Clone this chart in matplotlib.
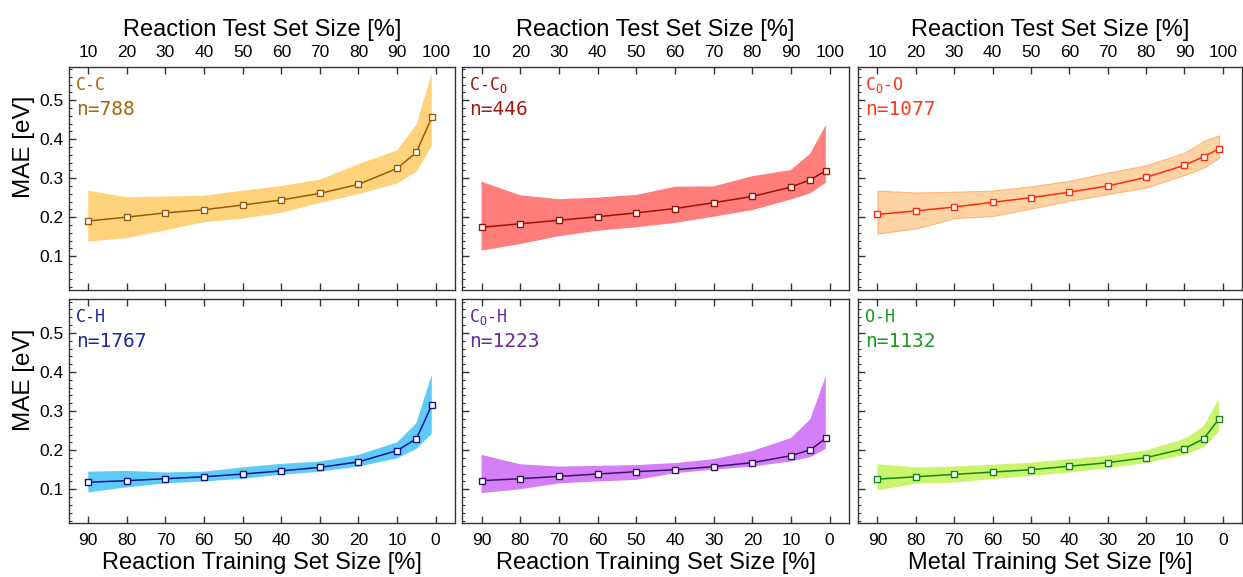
import matplotlib
matplotlib.use("Agg")
import matplotlib.pyplot as plt
from matplotlib.ticker import MultipleLocator

# ---------------- data ----------------
train_size = [90, 80, 70, 60, 50, 40, 30, 20, 10, 5, 1]
train_ticks = [90, 80, 70, 60, 50, 40, 30, 20, 10, 0]
test_tick_labels = ["10", "20", "30", "40", "50", "60", "70", "80", "90", "100"]
train_tick_labels = ["90", "80", "70", "60", "50", "40", "30", "20", "10", "0"]

cc_mean = [0.190, 0.200, 0.211, 0.219, 0.231, 0.244, 0.261, 0.284, 0.325, 0.366, 0.456]
cc_hi   = [0.268, 0.251, 0.253, 0.255, 0.268, 0.280, 0.296, 0.336, 0.371, 0.437, 0.569]
cc_lo   = [0.137, 0.146, 0.166, 0.187, 0.196, 0.211, 0.236, 0.259, 0.286, 0.316, 0.382]

cco_mean = [0.174, 0.183, 0.192, 0.201, 0.211, 0.222, 0.237, 0.253, 0.277, 0.296, 0.319]
cco_hi   = [0.291, 0.256, 0.246, 0.250, 0.257, 0.278, 0.279, 0.305, 0.321, 0.363, 0.436]
cco_lo   = [0.114, 0.131, 0.151, 0.165, 0.174, 0.185, 0.201, 0.218, 0.245, 0.261, 0.288]

coo_mean = [0.207, 0.216, 0.226, 0.238, 0.250, 0.264, 0.280, 0.302, 0.333, 0.355, 0.375]
coo_hi   = [0.268, 0.263, 0.265, 0.268, 0.279, 0.293, 0.314, 0.333, 0.365, 0.395, 0.410]
coo_lo   = [0.158, 0.171, 0.197, 0.203, 0.222, 0.242, 0.259, 0.276, 0.308, 0.327, 0.352]

ch_mean = [0.118, 0.122, 0.127, 0.132, 0.139, 0.147, 0.156, 0.170, 0.199, 0.229, 0.315]
ch_hi   = [0.145, 0.147, 0.143, 0.145, 0.156, 0.165, 0.171, 0.188, 0.220, 0.269, 0.393]
ch_lo   = [0.092, 0.105, 0.115, 0.120, 0.127, 0.137, 0.145, 0.158, 0.179, 0.203, 0.242]

coh_mean = [0.122, 0.127, 0.133, 0.139, 0.145, 0.150, 0.158, 0.168, 0.186, 0.201, 0.230]
coh_hi   = [0.188, 0.164, 0.158, 0.160, 0.162, 0.167, 0.177, 0.198, 0.231, 0.279, 0.389]
coh_lo   = [0.090, 0.100, 0.115, 0.120, 0.124, 0.141, 0.150, 0.158, 0.171, 0.182, 0.203]

oh_mean = [0.126, 0.132, 0.138, 0.144, 0.150, 0.159, 0.168, 0.181, 0.204, 0.229, 0.280]
oh_hi   = [0.164, 0.156, 0.158, 0.163, 0.168, 0.177, 0.186, 0.199, 0.229, 0.261, 0.332]
oh_lo   = [0.097, 0.114, 0.117, 0.126, 0.134, 0.143, 0.154, 0.167, 0.188, 0.207, 0.248]

panel_names = ["C-C", "C-C$_\\mathregular{O}$", "C$_\\mathregular{O}$-O",
               "C-H", "C$_\\mathregular{O}$-H", "O-H"]
panel_counts = ["n=788", "n=446", "n=1077", "n=1767", "n=1223", "n=1132"]
bottom_labels = ["Reaction Training Set Size [%]", "Reaction Training Set Size [%]",
                 "Metal Training Set Size [%]"]
top_label = "Reaction Test Set Size [%]"
ylabel = "MAE [eV]"

series = [
    (cc_mean, cc_lo, cc_hi),
    (cco_mean, cco_lo, cco_hi),
    (coo_mean, coo_lo, coo_hi),
    (ch_mean, ch_lo, ch_hi),
    (coh_mean, coh_lo, coh_hi),
    (oh_mean, oh_lo, oh_hi),
]

# ---------------- styles ----------------
band_colors = ["#ffd37c", "#ff7d7a", "#fdd3a4", "#5ecaf7", "#d47ff7", "#cbf46e"]
band_edges = ["none", "none", "#fbb878", "none", "none", "none"]
line_colors = ["#9c5a08", "#9a1208", "#ff2a10", "#10168a", "#3c1466", "#128a12"]
text_colors = ["#a8650e", "#a01a10", "#ff3a1a", "#1c2aa0", "#6a2a9a", "#1a9a1a"]

plt.rcParams["font.family"] = ["Liberation Sans", "DejaVu Sans"]
plt.rcParams["mathtext.fontset"] = "custom"
plt.rcParams["mathtext.rm"] = "DejaVu Sans"
plt.rcParams["axes.edgecolor"] = "#333333"
plt.rcParams["axes.linewidth"] = 1.0

fig = plt.figure(figsize=(12.43, 5.77), dpi=100)

col_left = [0.0555, 0.3719, 0.6905]
col_width = [0.3105, 0.3111, 0.3087]
row_bottom = [0.4974, 0.0931]
row_height = [0.3870, 0.3882]

for i in range(6):
    r, c = divmod(i, 3)
    ax = fig.add_axes([col_left[c], row_bottom[r], col_width[c], row_height[r]])
    mean, lo, hi = series[i]
    ax.fill_between(train_size, lo, hi, facecolor=band_colors[i],
                    edgecolor=band_edges[i], linewidth=0.8, zorder=1)
    ax.plot(train_size, mean, color=line_colors[i], lw=1.1, marker="s",
            markersize=4.6, markerfacecolor="white", markeredgecolor=line_colors[i],
            markeredgewidth=1.0, zorder=3)
    ax.set_xlim(95, -5)
    ax.set_ylim(0.013, 0.586)
    ax.set_xticks(train_ticks)
    ax.yaxis.set_major_locator(MultipleLocator(0.1))
    ax.yaxis.set_minor_locator(MultipleLocator(0.02))
    ax.tick_params(axis="both", which="both", direction="in", colors="#333333",
                   labelcolor="black", labelsize=12.5)
    ax.tick_params(axis="x", which="major", length=5, width=1.0, top=True, bottom=True)
    ax.tick_params(axis="y", which="major", length=5, width=1.0, right=False)
    ax.tick_params(axis="y", which="minor", length=2.5, width=0.8, right=False)
    if r == 0:
        ax.set_xticklabels(test_tick_labels)
        ax.tick_params(axis="x", labeltop=True, labelbottom=False, pad=5)
        ax.xaxis.set_label_position("top")
        ax.set_xlabel(top_label, fontsize=17, labelpad=6)
    else:
        ax.set_xticklabels(train_tick_labels)
        ax.tick_params(axis="x", labeltop=False, labelbottom=True, pad=7)
        ax.set_xlabel(bottom_labels[c], fontsize=17, labelpad=3)
    if c == 0:
        ax.set_yticks([0.1, 0.2, 0.3, 0.4, 0.5])
        ax.set_yticklabels(["0.1", "0.2", "0.3", "0.4", "0.5"])
        ax.tick_params(axis="y", pad=4)
        ax.set_ylabel(ylabel, fontsize=17.5)
        ax.yaxis.set_label_coords(-0.088, 0.64)
    else:
        ax.tick_params(axis="y", labelleft=False)
    ax.text(0.018, 0.897, panel_names[i], transform=ax.transAxes, fontsize=12,
            family="DejaVu Sans Mono", color=text_colors[i], va="baseline", ha="left")
    ax.text(0.018, 0.785, panel_counts[i], transform=ax.transAxes, fontsize=14,
            family="DejaVu Sans Mono", color=text_colors[i], va="baseline", ha="left")

fig.savefig("out.png", dpi=100)
